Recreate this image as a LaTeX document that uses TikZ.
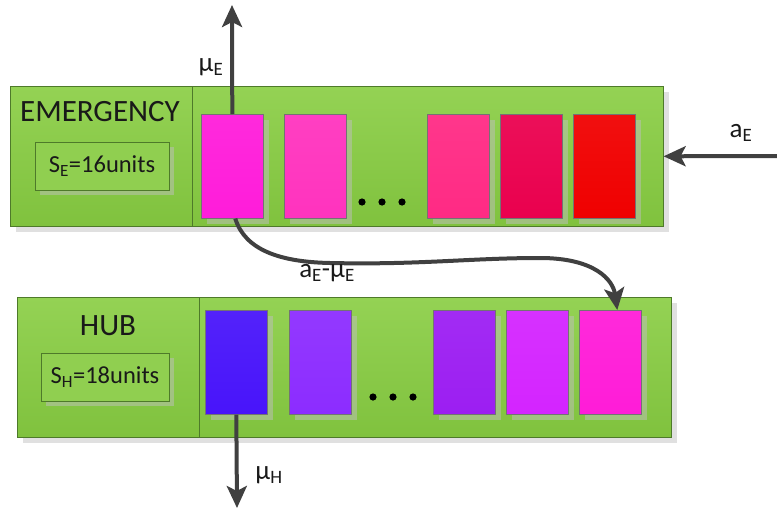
\documentclass[tikz,border=0pt]{standalone}
\usepackage{fontspec}
\setmainfont{Carlito}
\usetikzlibrary{arrows.meta,shadows}

\definecolor{queuetop}{HTML}{94D254}
\definecolor{queuebot}{HTML}{80C23E}
\definecolor{queueline}{HTML}{4E7A2A}
\definecolor{arrowgray}{HTML}{404040}
% emergency slots
\definecolor{eA}{HTML}{FF1CDA}
\definecolor{eB}{HTML}{FF33BE}
\definecolor{eC}{HTML}{FF2A84}
\definecolor{eD}{HTML}{EA004E}
\definecolor{eE}{HTML}{F00000}
% hub slots
\definecolor{hA}{HTML}{4814FA}
\definecolor{hB}{HTML}{8C2CFF}
\definecolor{hC}{HTML}{9C1EF2}
\definecolor{hD}{HTML}{D424FF}
\definecolor{hE}{HTML}{FF1CD8}

\begin{document}
\begin{tikzpicture}[x=1pt,y=-1pt,
    every node/.style={font=\fontsize{27}{30}\selectfont, text=black!90, inner sep=0pt},
    queue/.style={draw=queueline, line width=0.6pt, top color=queuetop, bottom color=queuebot,
      anchor=north west, minimum height=140pt,
      drop shadow={shadow xshift=6pt, shadow yshift=-6pt, fill=black!12, opacity=1}},
    slot/.style={draw=black!55, line width=0.6pt, anchor=north west,
      minimum width=62pt, minimum height=104pt,
      drop shadow={shadow xshift=6pt, shadow yshift=-6pt, fill=black!25, opacity=0.5}},
    sizebox/.style={draw=queueline, line width=0.6pt, fill=queuetop!80!queuebot,
      font=\fontsize{24.5}{28}\selectfont,
      minimum width=134pt, minimum height=48pt,
      drop shadow={shadow xshift=5pt, shadow yshift=-5pt, fill=black!25, opacity=0.5}},
    title/.style={font=\fontsize{31}{34}\selectfont},
    flow/.style={draw=arrowgray, line width=4pt,
      -{Stealth[length=22pt, width=20pt, inset=5pt]}}]

  \useasboundingbox (0,0) rectangle (777,509);

  % Emergency queue
  \node[queue, minimum width=653pt] (ebox) at (10,86) {};
  \draw[queueline, line width=0.6pt] (192,86) -- (192,226);
  \node[title] (ename) at (100,112) {EMERGENCY};
  \node[sizebox] (esize) at (102,166) {S\textsubscript{E}=16units};
  \foreach \n/\x/\c in {1/201/eA, 2/284/eB, 3/427/eC, 4/500/eD, 5/573/eE} {
    \node[slot, top color=\c!94!white, bottom color=\c] (e\n) at (\x,114) {};
  }
  \foreach \x in {362,382,402} {
    \fill (\x,202) circle (3.6);
  }

  % Hub queue
  \node[queue, minimum width=654pt] (hbox) at (17,297) {};
  \draw[queueline, line width=0.6pt] (199,297) -- (199,437);
  \node[title] (hname) at (108,326) {HUB};
  \node[sizebox, minimum width=128pt] (hsize) at (105,377) {S\textsubscript{H}=18units};
  \foreach \n/\x/\c in {1/205/hA, 2/289/hB, 3/433/hC, 4/506/hD, 5/579/hE} {
    \node[slot, top color=\c!94!white, bottom color=\c] (h\n) at (\x,310) {};
  }
  \foreach \x in {373,393,413} {
    \fill (\x,397) circle (3.6);
  }

  % Flows
  \coordinate (etop) at (232,5);
  \coordinate (ein) at (777,156);
  \coordinate (hout) at (237,508);
  \draw[flow] (e1.north) -- (etop);
  \draw[flow] (ein) -- (ebox.east);
  \draw[flow] ([xshift=3pt]e1.south) .. controls (245,250) and (280,262) .. (330,263)
    .. controls (420,265) and (470,258) .. (540,258)
    .. controls (595,258) and (613,280) .. ([xshift=7pt]h5.north);
  \draw[flow] (h1.south) -- (hout);

  % Labels
  \node (mue) at (211,67) {μ\textsubscript{E}};
  \node (ae) at (741,133) {a\textsubscript{E}};
  \node (transfer) at (327,273) {a\textsubscript{E}-μ\textsubscript{E}};
  \node (muh) at (269,475) {μ\textsubscript{H}};
\end{tikzpicture}
\end{document}
